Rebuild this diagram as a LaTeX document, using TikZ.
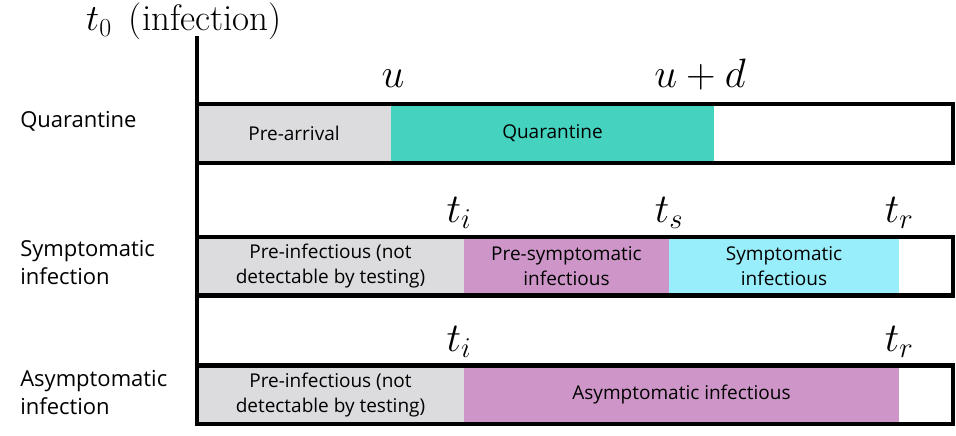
\RequirePackage{fix-cm}
\documentclass[tikz,border=0pt]{standalone}
\usepackage{fontspec}
\usepackage{tikz}
\newfontfamily\labelfont{Open Sans}
\definecolor{pre}{RGB}{220, 220, 222}
\definecolor{quar}{RGB}{69, 210, 190}
\definecolor{infect}{RGB}{206, 150, 200}
\definecolor{sympt}{RGB}{153, 238, 252}

\begin{document}
\begin{tikzpicture}[x=1pt, y=-1pt, line width=4.5pt]
  \tikzset{
    seg/.style={anchor=west, minimum height=58pt, inner sep=0pt, outer sep=0pt, align=center,
      font=\labelfont\fontsize{19}{25}\selectfont},
    row/.style={anchor=west, align=left, inner sep=0pt,
      font=\labelfont\fontsize{22}{28}\selectfont},
    time/.style={anchor=base, inner sep=0pt, font=\fontsize{41}{42}\selectfont}
  }
  \useasboundingbox (0,0) rectangle (956,436);

  % quarantine
  \node[row] (rowq) at (18,121) {Quarantine};
  \node[seg, fill=pre, minimum width=194pt] (qpre) at (197,133.5) {Pre-arrival};
  \node[seg, fill=quar, minimum width=323pt] (qquar) at (qpre.east) {Quarantine};
  \draw (197,104) rectangle (953,163);
  \node[time] (u) at (393,88) {$u$};
  \node[time] (ud) at (700,88) {$u+d$};

  % symptomatic
  \node[row] (rows) at (18,263) {Symptomatic\\infection};
  \node[seg, fill=pre, minimum width=267pt] (spre) at (197,266) {Pre-infectious (not\\detectable by testing)};
  \node[seg, fill=infect, minimum width=205pt] (spresym) at (spre.east) {Pre-symptomatic\\infectious};
  \node[seg, fill=sympt, minimum width=230pt] (ssym) at (spresym.east) {Symptomatic\\infectious};
  \draw (197,237) rectangle (953,295.5);
  \node[time] (sti) at (459,222) {$t_i$};
  \node[time] (sts) at (669,222) {$t_s$};
  \node[time] (str) at (899,222) {$t_r$};

  % asymptomatic
  \node[row] (rowa) at (18,393) {Asymptomatic\\infection};
  \node[seg, fill=pre, minimum width=267pt] (apre) at (197,395) {Pre-infectious (not\\detectable by testing)};
  \node[seg, fill=infect, minimum width=435pt] (ainf) at (apre.east) {Asymptomatic infectious};
  \draw (197,365.5) rectangle (953,424);
  \node[time] (ati) at (459,351) {$t_i$};
  \node[time] (atr) at (899,351) {$t_r$};

  % time axis
  \node[time, font=\fontsize{37}{38}\selectfont] (t0) at (184,30.5) {$t_0$\, (infection)};
  \draw (197,36) -- (197,426.25);
\end{tikzpicture}
\end{document}
